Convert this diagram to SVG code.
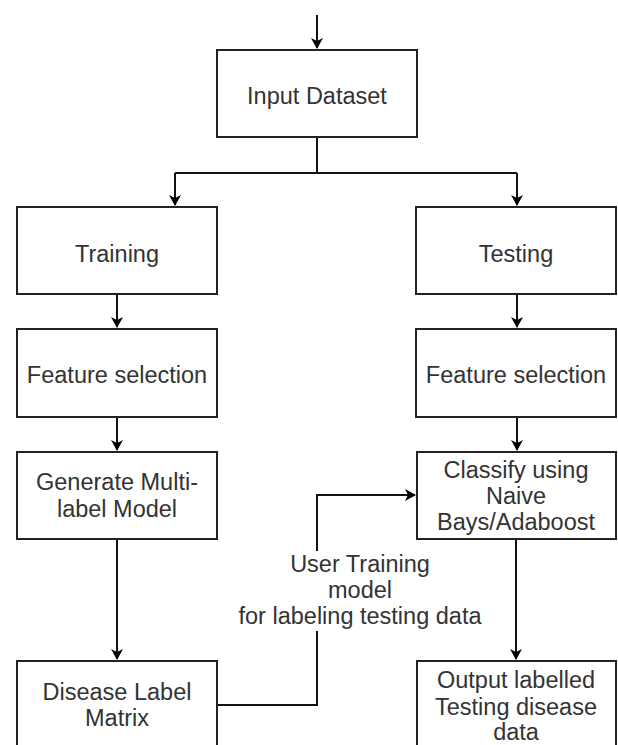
<svg xmlns="http://www.w3.org/2000/svg" width="618" height="745" viewBox="0 0 618 745">
<defs>
<marker id="arr" markerWidth="12" markerHeight="12" refX="10" refY="6" orient="auto" markerUnits="userSpaceOnUse">
<path d="M0,0 L11,6 L0,12 L3,6 Z" fill="#000"/>
</marker>
<style>
.box{fill:#fff;stroke:#222;stroke-width:2}
.t{font-family:"Liberation Sans",Arial,sans-serif;font-size:23.5px;fill:#333;text-anchor:middle}
.e{fill:none;stroke:#111;stroke-width:2}
</style>
</defs>
<rect width="618" height="745" fill="#fff"/>
<g id="connectors">
<path class="e" d="M317,15 L317,48" marker-end="url(#arr)"/>
<path class="e" d="M317,137 L317,173 M175,173 L517,173"/>
<path class="e" d="M175,173 L175,205" marker-end="url(#arr)"/>
<path class="e" d="M517,173 L517,205" marker-end="url(#arr)"/>
<path class="e" d="M117,294 L117,327" marker-end="url(#arr)"/>
<path class="e" d="M517,294 L517,327" marker-end="url(#arr)"/>
<path class="e" d="M117,417 L117,450" marker-end="url(#arr)"/>
<path class="e" d="M517,417 L517,450" marker-end="url(#arr)"/>
<path class="e" d="M117,539 L117,659" marker-end="url(#arr)"/>
<path class="e" d="M516,539 L516,659" marker-end="url(#arr)"/>
<path class="e" d="M217,705 L317,705 L317,495 L415,495" marker-end="url(#arr)"/>
<rect x="236" y="551" width="250" height="80" fill="#fff"/>
<text class="t" x="360" y="572">User Training</text>
<text class="t" x="360" y="598">model</text>
<text class="t" x="360" y="624">for labeling testing data</text>
</g>
<g id="input">
<rect class="box" x="217" y="50" width="200" height="87"/>
<text class="t" x="317" y="104">Input Dataset</text>
</g>
<g id="training">
<rect class="box" x="17" y="207" width="200" height="87"/>
<text class="t" x="117" y="262">Training</text>
</g>
<g id="testing">
<rect class="box" x="416" y="207" width="200" height="87"/>
<text class="t" x="516" y="262">Testing</text>
</g>
<g id="fs-train">
<rect class="box" x="17" y="329" width="200" height="88"/>
<text class="t" x="117" y="383">Feature selection</text>
</g>
<g id="fs-test">
<rect class="box" x="416" y="329" width="200" height="88"/>
<text class="t" x="516" y="383">Feature selection</text>
</g>
<g id="generate">
<rect class="box" x="17" y="452" width="200" height="87"/>
<text class="t" x="117" y="490">Generate Multi-</text>
<text class="t" x="117" y="517">label Model</text>
</g>
<g id="classify">
<rect class="box" x="417" y="452" width="199" height="87"/>
<text class="t" x="516" y="478">Classify using</text>
<text class="t" x="516" y="504">Naive</text>
<text class="t" x="516" y="530">Bays/Adaboost</text>
</g>
<g id="disease">
<rect class="box" x="17" y="661" width="200" height="100"/>
<text class="t" x="117" y="700">Disease Label</text>
<text class="t" x="117" y="726">Matrix</text>
</g>
<g id="output">
<rect class="box" x="417" y="661" width="199" height="100"/>
<text class="t" x="516" y="688">Output labelled</text>
<text class="t" x="516" y="715">Testing disease</text>
<text class="t" x="516" y="740">data</text>
</g>
</svg>
